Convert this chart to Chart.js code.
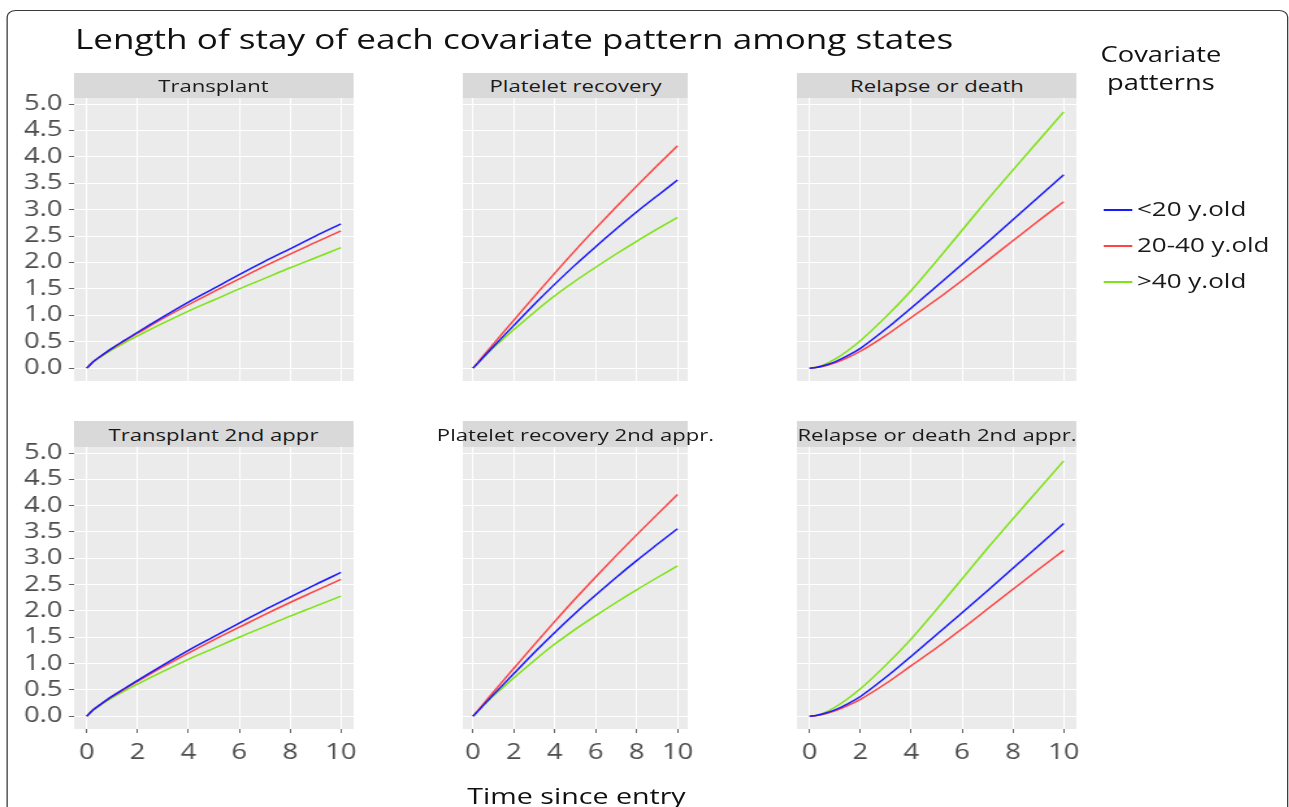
<!DOCTYPE html>
<html lang="en">
<head>
<meta charset="UTF-8">
<title>Length of stay of each covariate pattern among states</title>
<script src="https://cdn.jsdelivr.net/npm/chart.js@4"></script>
<style>
  html, body { margin: 0; padding: 0; background: #fff; overflow: hidden; }
  body { width: 1289px; height: 807px; position: relative; font-family: 'Open Sans', sans-serif; }
  #stage { position: absolute; left: 0; top: 0; width: 992px; height: 807px; transform: scaleX(1.3); transform-origin: 0 0; }
  .frame { position: absolute; left: 4.6px; top: 10px; width: 986px; height: 830px; border: 1.3px solid #3c3c3c; border-radius: 7px; box-sizing: border-box; }
  .title { position: absolute; left: 57.7px; top: 25px; font-size: 27px; line-height: 1; color: #111; white-space: nowrap; }
  .strip { position: absolute; background: #d9d9d9; display: flex; align-items: center; justify-content: center; font-size: 17px; color: #1a1a1a; white-space: nowrap; }
  .legend-title { position: absolute; left: 843px; top: 40px; width: 100px; text-align: center; font-size: 21px; line-height: 28px; color: #111; }
  .key { position: absolute; left: 848.5px; width: 22.3px; height: 1.5px; }
  .key-label { position: absolute; left: 874.6px; font-size: 20px; line-height: 20px; color: #1a1a1a; white-space: nowrap; }
  .xtitle { position: absolute; left: 343.5px; top: 783.5px; width: 200px; text-align: center; font-size: 22px; line-height: 1; color: #111; white-space: nowrap; }
  canvas { position: absolute; }
</style>
</head>
<body>
<div id="stage">
  <div class="frame"></div>
  <div class="title">Length of stay of each covariate pattern among states</div>
  <div class="legend-title">Covariate<br>patterns</div>
  <div class="xtitle">Time since entry</div>
</div>
<script>
// time grid (years since entry)
const timePoints = [0, 0.25, 0.5, 1, 1.5, 2, 3, 4, 5, 6, 7, 8, 9, 10];

const seriesNames = ['<20 y.old', '20-40 y.old', '>40 y.old'];
const seriesColors = ['#1a1aff', '#ff4444', '#7ee314'];

// Transplant
const transplantYoung = [0, 0.12, 0.21, 0.38, 0.53, 0.68, 0.97, 1.25, 1.51, 1.77, 2.02, 2.26, 2.50, 2.73];
const transplantMid   = [0, 0.12, 0.21, 0.37, 0.52, 0.66, 0.94, 1.20, 1.45, 1.69, 1.93, 2.16, 2.38, 2.60];
const transplantOld   = [0, 0.115, 0.20, 0.35, 0.485, 0.61, 0.85, 1.08, 1.29, 1.50, 1.70, 1.90, 2.09, 2.28];

// Platelet recovery
const plateletYoung = [0, 0.10, 0.205, 0.41, 0.61, 0.81, 1.21, 1.59, 1.955, 2.30, 2.635, 2.955, 3.26, 3.56];
const plateletMid   = [0, 0.115, 0.23, 0.46, 0.685, 0.91, 1.36, 1.80, 2.23, 2.645, 3.05, 3.445, 3.83, 4.21];
const plateletOld   = [0, 0.10, 0.20, 0.39, 0.56, 0.73, 1.06, 1.37, 1.65, 1.91, 2.16, 2.40, 2.63, 2.855];

// Relapse or death
const relapseYoung = [0, 0.012, 0.04, 0.12, 0.235, 0.375, 0.74, 1.14, 1.55, 1.965, 2.385, 2.81, 3.235, 3.66];
const relapseMid   = [0, 0.01, 0.03, 0.10, 0.20, 0.32, 0.62, 0.96, 1.30, 1.66, 2.035, 2.41, 2.785, 3.15];
const relapseOld   = [0, 0.015, 0.05, 0.17, 0.33, 0.52, 0.97, 1.47, 2.03, 2.61, 3.19, 3.75, 4.30, 4.85];

const xTicksStep = 2;
const yTicksStep = 0.5;

const panels = [
  { title: 'Transplant',                  row: 0, col: 0, data: [transplantYoung, transplantMid, transplantOld] },
  { title: 'Platelet recovery',           row: 0, col: 1, data: [plateletYoung, plateletMid, plateletOld] },
  { title: 'Relapse or death',            row: 0, col: 2, data: [relapseYoung, relapseMid, relapseOld] },
  { title: 'Transplant 2nd appr',         row: 1, col: 0, data: [transplantYoung, transplantMid, transplantOld] },
  { title: 'Platelet recovery 2nd appr.', row: 1, col: 1, data: [plateletYoung, plateletMid, plateletOld] },
  { title: 'Relapse or death 2nd appr.',  row: 1, col: 2, data: [relapseYoung, relapseMid, relapseOld] }
];

// layout (unstretched px, stage is scaled 1.3x horizontally)
const colLeft  = [56.92, 356.15, 613.08];
const colWidth = [214.6, 173.1, 215.4];
const stripTop = [73, 421];
const stripH   = [25, 26];
const rowTop   = [98, 447];
const rowH     = [283, 282];
const yAxisW   = [50, 0, 0];
const xAxisH   = [0, 40];
const pad = { l: 15, r: 15, t: 20, b: 20 };

Chart.defaults.font.family = "'Open Sans', sans-serif";
Chart.defaults.color = '#4d4d4d';

const panelBg = {
  id: 'panelBg',
  beforeDraw(chart) {
    const a = chart.chartArea, ctx = chart.ctx;
    ctx.save();
    ctx.fillStyle = '#ebebeb';
    ctx.fillRect(a.left, a.top, a.right - a.left, a.bottom - a.top);
    ctx.restore();
  }
};

const stage = document.getElementById('stage');

// legend
seriesNames.forEach((name, i) => {
  const y = 210 + i * 36;
  const key = document.createElement('div');
  key.className = 'key';
  key.style.top = (y - 0.75) + 'px';
  key.style.background = seriesColors[i];
  stage.appendChild(key);
  const lab = document.createElement('div');
  lab.className = 'key-label';
  lab.style.top = (y - 10.7) + 'px';
  lab.textContent = name;
  stage.appendChild(lab);
});

panels.forEach(p => {
  const strip = document.createElement('div');
  strip.className = 'strip';
  strip.style.left = colLeft[p.col] + 'px';
  strip.style.width = colWidth[p.col] + 'px';
  strip.style.top = stripTop[p.row] + 'px';
  strip.style.height = stripH[p.row] + 'px';
  strip.textContent = p.title;
  stage.appendChild(strip);

  const yW = yAxisW[p.col], xH = xAxisH[p.row];
  const w = Math.round(colWidth[p.col] + yW + pad.l + pad.r);
  const h = Math.round(rowH[p.row] + xH + pad.t + pad.b);
  const cv = document.createElement('canvas');
  cv.width = w; cv.height = h;
  cv.style.width = w + 'px'; cv.style.height = h + 'px';
  cv.style.left = (colLeft[p.col] - yW - pad.l) + 'px';
  cv.style.top = (rowTop[p.row] - pad.t) + 'px';
  stage.appendChild(cv);

  const showY = p.col === 0, showX = p.row === 1;

  new Chart(cv, {
    type: 'line',
    data: {
      datasets: p.data.map((vals, i) => ({
        label: seriesNames[i],
        data: timePoints.map((t, j) => ({ x: t, y: vals[j] })),
        borderColor: seriesColors[i],
        borderWidth: 1.5,
        pointRadius: 0,
        fill: false,
        cubicInterpolationMode: 'monotone'
      }))
    },
    options: {
      responsive: false,
      animation: false,
      layout: { padding: { left: pad.l, right: pad.r, top: pad.t, bottom: pad.b } },
      plugins: { legend: { display: false }, tooltip: { enabled: false } },
      scales: {
        x: {
          type: 'linear',
          min: -0.5, max: 10.5,
          border: { display: false },
          grid: { color: '#ffffff', lineWidth: 1, drawTicks: showX, tickLength: 4, tickColor: '#666' },
          ticks: { display: showX, stepSize: xTicksStep, includeBounds: false, maxRotation: 0, autoSkip: false,
                   padding: 7, font: { size: 21 }, color: '#4d4d4d' },
          afterFit: s => { s.height = xH; }
        },
        y: {
          type: 'linear',
          min: -0.2435, max: 5.114,
          border: { display: false },
          grid: { color: '#ffffff', lineWidth: 1, drawTicks: showY, tickLength: 4, tickColor: '#666' },
          ticks: { display: showY, stepSize: yTicksStep, includeBounds: false, autoSkip: false,
                   padding: 5, font: { size: 21 }, color: '#4d4d4d',
                   callback: v => Number(v).toFixed(1) },
          afterFit: s => { s.width = yW; }
        }
      }
    },
    plugins: [panelBg]
  });
});
</script>
</body>
</html>
